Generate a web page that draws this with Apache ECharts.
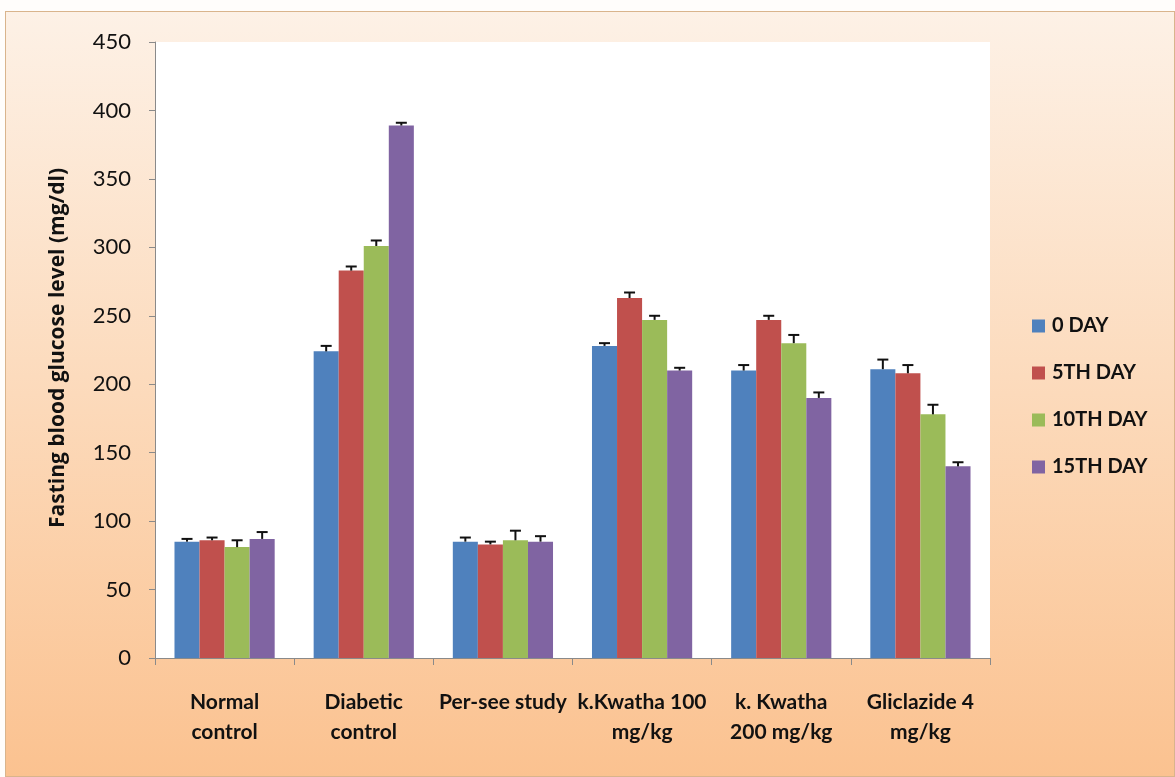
<!DOCTYPE html>
<html>
<head>
<meta charset="utf-8">
<script src="https://cdn.jsdelivr.net/npm/echarts@6/dist/echarts.min.js"></script>
<style>
  html, body { margin: 0; padding: 0; background: #fffdfb; }
  #chart {
    position: absolute; left: 5px; top: 11px; width: 1168px; height: 764px;
    border: 1px solid #d9b48c;
    background: linear-gradient(to bottom, #fdf1e6 0%, #fcdabb 50%, #fbc290 100%);
  }
</style>
</head>
<body>
<div id="chart"></div>
<script>
var categories = ['Normal\ncontrol', 'Diabetic\ncontrol', 'Per-see study', 'k.Kwatha 100\nmg/kg', 'k. Kwatha\n200 mg/kg', 'Gliclazide 4\nmg/kg'];
var seriesNames = ['0 DAY', '5TH DAY', '10TH DAY', '15TH DAY'];
var day0 = [85, 224, 85, 228, 210, 211];
var day5 = [86, 283, 83, 263, 247, 208];
var day10 = [81, 301, 86, 247, 230, 178];
var day15 = [87, 389, 85, 210, 190, 140];
// upper error (SEM)
var err0 = [2, 4, 3, 2, 4, 7];
var err5 = [2, 3, 2, 4, 3, 6];
var err10 = [5, 4, 7, 3, 6, 7];
var err15 = [5, 2, 4, 2, 4, 3];
var yTicks = [0, 50, 100, 150, 200, 250, 300, 350, 400, 450];

var colors = ['#4f81bd', '#c0504d', '#9bbb59', '#8064a2'];
var values = [day0, day5, day10, day15];
var errors = [err0, err5, err10, err15];
var catGap = 0.28;
var font = 'Lato, sans-serif';

var myChart = echarts.init(document.getElementById('chart'));

var series = [];
values.forEach(function (vals, i) {
    series.push({
        name: seriesNames[i],
        type: 'bar',
        data: vals,
        barGap: 0,
        barCategoryGap: (catGap * 100) + '%',
        itemStyle: { color: colors[i] }
    });
});
values.forEach(function (vals, i) {
    series.push({
        type: 'custom',
        silent: true,
        z: 5,
        data: vals.map(function (v, k) { return [k, v, v + errors[i][k]]; }),
        renderItem: function (params, api) {
            var base = api.coord([api.value(0), api.value(1)]);
            var top = api.coord([api.value(0), api.value(2)]);
            var band = api.size([1, 0])[0];
            var bw = band * (1 - catGap) / 4;
            var x = base[0] + (i - 1.5) * bw;
            var cap = 5.5;
            var st = { stroke: '#111', lineWidth: 2 };
            return {
                type: 'group',
                children: [
                    { type: 'line', shape: { x1: x, y1: base[1], x2: x, y2: top[1] }, style: st },
                    { type: 'line', shape: { x1: x - cap, y1: top[1], x2: x + cap, y2: top[1] }, style: st }
                ]
            };
        }
    });
});

var option = {
    animation: false,
    textStyle: { fontFamily: font },
    grid: { left: 149, top: 30, width: 835, height: 616, backgroundColor: '#ffffff', show: true, borderWidth: 0 },
    graphic: [{
        type: 'text',
        x: 52,
        y: 336,
        rotation: Math.PI / 2,
        style: {
            text: 'Fasting blood glucose level (mg/dl)',
            font: 'bold 21px "Open Sans", sans-serif',
            fill: '#111',
            align: 'center',
            verticalAlign: 'middle'
        }
    }],
    legend: {
        orient: 'vertical',
        left: 1021,
        top: 299,
        icon: 'rect',
        itemWidth: 13,
        itemHeight: 13,
        itemGap: 27,
        data: seriesNames,
        textStyle: { fontSize: 20, fontWeight: 'bold', color: '#111', fontFamily: font, padding: [0, 0, 0, 2] }
    },
    xAxis: {
        type: 'category',
        data: categories,
        axisLine: { lineStyle: { color: '#8a8a8a', width: 1 } },
        axisTick: { show: true, alignWithLabel: false, length: 7, lineStyle: { color: '#8a8a8a' } },
        axisLabel: {
            interval: 0,
            margin: 29,
            color: '#111',
            fontSize: 21,
            fontWeight: 'bold',
            lineHeight: 30,
            fontFamily: font
        }
    },
    yAxis: {
        type: 'value',
        min: 0,
        max: 450,
        interval: 50,
        axisLine: { show: true, lineStyle: { color: '#8a8a8a' } },
        axisTick: { show: true, length: 6, lineStyle: { color: '#8a8a8a' } },
        splitLine: { show: false },
        axisLabel: {
            margin: 24,
            fontSize: 22,
            color: '#111',
            fontFamily: font,
            formatter: function (v) { return yTicks.indexOf(v) >= 0 ? String(v) : ''; }
        }
    },
    series: series
};
myChart.setOption(option);
</script>
</body>
</html>
